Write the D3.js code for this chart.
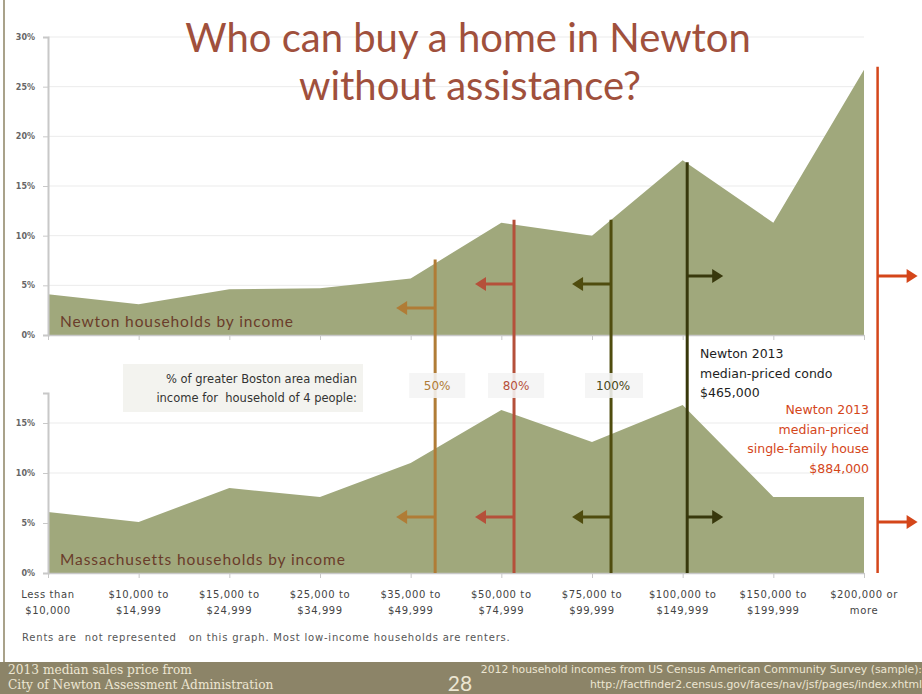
<!DOCTYPE html>
<html>
<head>
<meta charset="utf-8">
<script src="https://cdn.jsdelivr.net/npm/d3@7"></script>
<style>
  html, body { margin: 0; padding: 0; background: #fff; }
  svg { display: block; }
</style>
</head>
<body>
<svg id="chart" width="922" height="694"></svg>
<script>
// Household income brackets (two-line labels)
const categories = [
  ["Less than", "$10,000"],
  ["$10,000 to", "$14,999"],
  ["$15,000 to", "$24,999"],
  ["$25,000 to", "$34,999"],
  ["$35,000 to", "$49,999"],
  ["$50,000 to", "$74,999"],
  ["$75,000 to", "$99,999"],
  ["$100,000 to", "$149,999"],
  ["$150,000 to", "$199,999"],
  ["$200,000 or", "more"]
];

// Share of households in each bracket (%)
const newtonShare = [4.1, 3.1, 4.6, 4.7, 5.7, 11.3, 10.0, 17.6, 11.3, 26.7];
const massShare   = [6.1, 5.1, 8.5, 7.6, 11.0, 16.3, 13.1, 16.8, 7.6, 7.6];

const newtonTicks = [0, 5, 10, 15, 20, 25, 30];
const massTicks = [0, 5, 10, 15];

// Affordability thresholds, placed along the bracket axis (fractional bracket index)
const incomeThresholds = [
  { label: "50%",  pos: 4.27, top: 7.6,  color: "#b07c36", text: "#b07c36" },
  { label: "80%",  pos: 5.14, top: 11.6, color: "#b5503a", text: "#b5503a" },
  { label: "100%", pos: 6.21, top: 11.6, color: "#4f4c0e", text: "#4a4818" }
];
const condoThreshold = { pos: 7.05, top: 17.4, color: "#38380c" };
const houseThreshold = { pos: 9.15, top: 26.8, color: "#d4461a" };

const svg = d3.select("#chart");
const W = 922, H = 694;
const TITLE_FONT = "Lato, 'Open Sans', sans-serif";
const FONT = "'DejaVu Sans', Verdana, sans-serif";

const x = d3.scaleLinear().domain([0, categories.length - 1]).range([48, 864]);
const yTop = d3.scaleLinear().domain([0, 30]).range([335, 37]);
const yBot = d3.scaleLinear().domain([0, 18]).range([573, 393]);

// page frame
svg.append("line").attr("x1", 4).attr("x2", 4).attr("y1", 0).attr("y2", 662)
  .attr("stroke", "#a9a28a").attr("stroke-width", 2);

function panel(y, ticks, values, title) {
  const g = svg.append("g");
  // gridlines
  g.selectAll("line.grid").data(ticks.filter(t => t > 0)).join("line")
    .attr("x1", x(0)).attr("x2", x(9))
    .attr("y1", d => y(d)).attr("y2", d => y(d))
    .attr("stroke", "#ebebeb").attr("stroke-width", 1);
  // area
  const area = d3.area().x((d, i) => x(i)).y0(y(0)).y1(d => y(d));
  g.append("path").datum(values).attr("d", area).attr("fill", "#a0a87c");
  // y axis
  const ax = d3.axisLeft(y).tickValues(ticks).tickFormat(d => d + "%").tickSize(5).tickPadding(8);
  const ag = g.append("g").attr("transform", `translate(${x(0)},0)`).call(ax);
  ag.select(".domain").attr("stroke", "#c8c8c8").attr("stroke-width", 2);
  ag.selectAll(".tick line").attr("stroke", "#c8c8c8");
  ag.selectAll("text").attr("font-family", FONT).attr("font-size", 8).attr("font-weight", "bold").attr("fill", "#666");
  // x axis baseline with bracket ticks
  const xa = d3.axisBottom(x).tickValues(d3.range(categories.length)).tickFormat("").tickSize(5).tickSizeOuter(0);
  const xg = g.append("g").attr("transform", `translate(0,${y(0)})`).call(xa);
  xg.select(".domain").attr("stroke", "#c8c8c8").attr("stroke-width", 1.5);
  xg.selectAll(".tick line").attr("stroke", "#c8c8c8");
  // panel label
  g.append("text").attr("x", 60).attr("y", y(0) - 8)
    .attr("font-family", TITLE_FONT).attr("font-size", 15.5).attr("fill", "#6a3c2a")
    .attr("letter-spacing", 0.9).text(title);
  return g;
}

panel(yTop, newtonTicks, newtonShare, "Newton households by income");
panel(yBot, massTicks, massShare, "Massachusetts households by income");

// x labels
const lab = svg.append("g").attr("font-family", FONT).attr("font-size", 10).attr("letter-spacing", 0.6)
  .attr("fill", "#444").attr("text-anchor", "middle");
categories.forEach((c, i) => {
  lab.append("text").attr("x", x(i)).attr("y", 598).text(c[0]);
  lab.append("text").attr("x", x(i)).attr("y", 614).text(c[1]);
});

// arrow helper
function arrow(xs, y, dir, color, len) {
  const tip = xs + dir * len;
  svg.append("line").attr("x1", xs).attr("x2", tip - dir * 8).attr("y1", y).attr("y2", y)
    .attr("stroke", color).attr("stroke-width", 3);
  svg.append("path")
    .attr("d", `M${tip},${y} L${tip - dir * 11},${y - 7} L${tip - dir * 11},${y + 7} Z`)
    .attr("fill", color);
}

// vertical threshold lines with arrows
incomeThresholds.forEach(t => {
  const xp = x(t.pos);
  svg.append("line").attr("x1", xp).attr("x2", xp).attr("y1", yTop(t.top)).attr("y2", yBot(0))
    .attr("stroke", t.color).attr("stroke-width", 3);
  arrow(xp, t.label === "50%" ? 308 : 284, -1, t.color, 39);
  arrow(xp, 517, -1, t.color, 39);
});
{
  const t = condoThreshold, xp = x(t.pos);
  svg.append("line").attr("x1", xp).attr("x2", xp).attr("y1", yTop(t.top)).attr("y2", yBot(0))
    .attr("stroke", t.color).attr("stroke-width", 3);
  arrow(xp, 276, 1, t.color, 36);
  arrow(xp, 517, 1, t.color, 36);
}
{
  const t = houseThreshold, xp = x(t.pos);
  svg.append("line").attr("x1", xp).attr("x2", xp).attr("y1", yTop(t.top) - 2).attr("y2", yBot(0))
    .attr("stroke", t.color).attr("stroke-width", 2.5);
  arrow(xp, 276, 1, t.color, 40);
  arrow(xp, 522, 1, t.color, 40);
}

// income note box
svg.append("rect").attr("x", 123).attr("y", 364).attr("width", 240).attr("height", 48).attr("fill", "#f3f3ef");
const note = svg.append("g").attr("font-family", FONT).attr("font-size", 11.5).attr("fill", "#333").attr("text-anchor", "end");
note.append("text").attr("x", 357).attr("y", 383).text("% of greater Boston area median");
note.append("text").attr("x", 357).attr("y", 402).attr("xml:space", "preserve").text("income for  household of 4 people:");

// threshold labels
incomeThresholds.forEach(t => {
  const xp = x(t.pos);
  const w = t.label.length > 3 ? 58 : 56;
  svg.append("rect").attr("x", xp - 26).attr("y", 373).attr("width", w).attr("height", 25)
    .attr("fill", "#f4f4f4").attr("opacity", 0.88);
  svg.append("text").attr("x", xp + 2).attr("y", 390).attr("text-anchor", "middle")
    .attr("font-family", FONT).attr("font-size", 12).attr("fill", t.text)
    .text(t.label);
});

// price annotations
const condo = svg.append("g").attr("font-family", FONT).attr("font-size", 12.5).attr("fill", "#1e1e1e");
["Newton 2013", "median-priced condo", "$465,000"].forEach((s, i) =>
  condo.append("text").attr("x", 700).attr("y", 358 + i * 19.5).text(s));
const house = svg.append("g").attr("font-family", FONT).attr("font-size", 12.5).attr("fill", "#d4461a").attr("text-anchor", "end");
["Newton 2013", "median-priced", "single-family house", "$884,000"].forEach((s, i) =>
  house.append("text").attr("x", 869).attr("y", 414 + i * 19.7).text(s));

// title
const title = svg.append("g").attr("font-family", TITLE_FONT).attr("font-size", 40).attr("fill", "#a0503c").attr("text-anchor", "middle");
title.append("text").attr("x", 468).attr("y", 52).text("Who can buy a home in Newton");
title.append("text").attr("x", 470).attr("y", 100).text("without assistance?");

// footnote
svg.append("text").attr("x", 22).attr("y", 641).attr("font-family", FONT).attr("font-size", 10).attr("letter-spacing", 0.8)
  .attr("fill", "#555")
  .attr("xml:space", "preserve").text("Rents are  not represented   on this graph. Most low-income households are renters.");

// footer band
svg.append("rect").attr("x", 0).attr("y", 662).attr("width", W).attr("height", H - 662).attr("fill", "#8c8468");
const fl = svg.append("g").attr("font-family", "'DejaVu Serif', 'Liberation Serif', serif").attr("font-size", 12.2).attr("fill", "#ece6d2");
fl.append("text").attr("x", 8).attr("y", 674).text("2013 median sales price from");
fl.append("text").attr("x", 8).attr("y", 689).text("City of Newton Assessment Administration");
svg.append("text").attr("x", 460).attr("y", 691).attr("text-anchor", "middle").attr("font-family", TITLE_FONT)
  .attr("font-size", 21).attr("fill", "#ece6d2").text("28");
const fr = svg.append("g").attr("font-family", FONT).attr("font-size", 10.8).attr("fill", "#ece6d2").attr("text-anchor", "end");
fr.append("text").attr("x", 922).attr("y", 673).text("2012 household incomes from US Census American Community Survey (sample):");
fr.append("text").attr("x", 922).attr("y", 688).text("http://factfinder2.census.gov/faces/nav/jsf/pages/index.xhtml");
</script>
</body>
</html>
